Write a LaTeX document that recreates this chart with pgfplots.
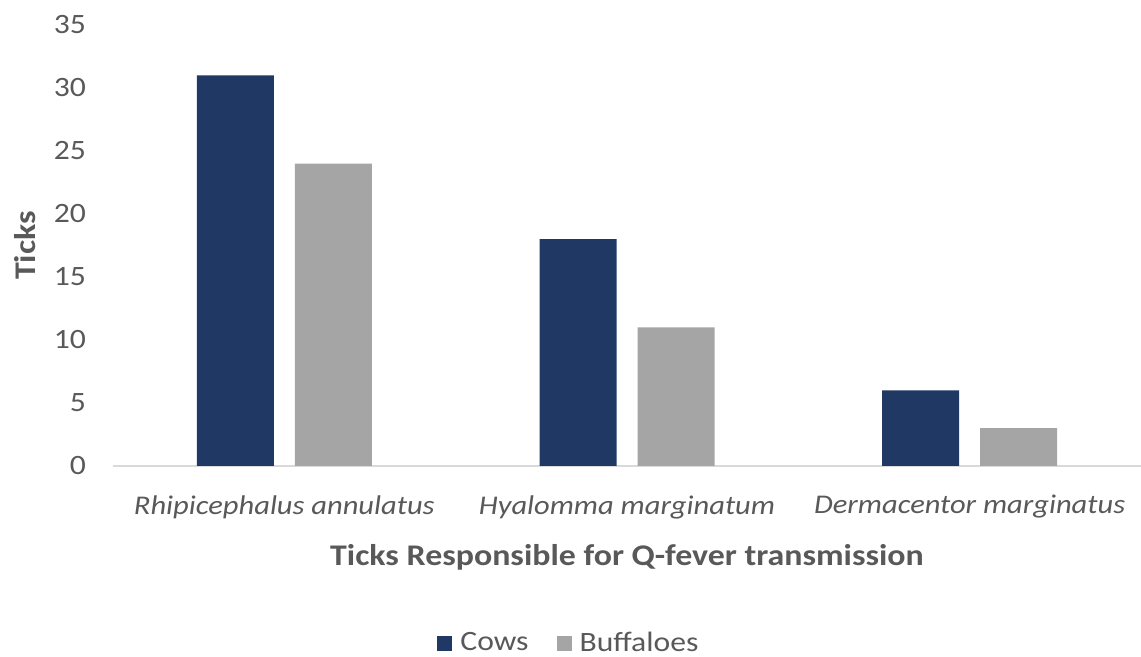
\documentclass[border=0pt]{standalone}
\usepackage{pgfplots}
\pgfplotsset{compat=1.18}
\usepackage{fontspec}
\setmainfont{Carlito}[FakeStretch=1.13]
\usetikzlibrary{calc}
\definecolor{cows}{HTML}{203864}
\definecolor{buff}{HTML}{A5A5A5}
\definecolor{txt}{HTML}{595959}
\definecolor{base}{HTML}{D9D9D9}
\begin{document}
\begin{tikzpicture}
\begin{axis}[
  scale only axis,
  width=514pt, height=220.5pt,
  xmin=-0.5, xmax=2.5, ymin=0, ymax=35,
  axis x line*=bottom, axis y line*=left,
  x axis line style={base, line width=0.8pt, -},
  y axis line style={draw=none},
  xtick={0,1,2},
  xticklabels={\textit{Rhipicephalus annulatus},\textit{Hyalomma marginatum},\textit{Dermacentor marginatus}},
  ytick={0,5,...,35},
  major tick length=0pt,
  tick style={draw=none},
  /pgf/number format/assume math mode=true,
  ticklabel style={font=\fontsize{13.5}{16}\selectfont, text=txt},
  yticklabel style={font=\fontsize{14}{16}\selectfont},
  xticklabel style={anchor=center, yshift=-20.5pt},
  yticklabel style={anchor=east, xshift=-10pt},
  xlabel={\textbf{Ticks Responsible for Q-fever transmission}},
  ylabel={\textbf{Ticks}},
  label style={font=\fontsize{15}{18}\selectfont, text=txt},
  xlabel style={at={(axis description cs:0.5,0)}, anchor=center, yshift=-45.5pt},
  ylabel style={at={(axis description cs:-0.0856,0.5)}, anchor=center, rotate=0},
  legend style={at={(axis description cs:0.4445,0)}, anchor=center, yshift=-88.5pt, draw=none,
    font=\fontsize{14}{16}\selectfont, text=txt, legend columns=2,
    /tikz/every odd column/.append style={column sep=2pt},
    /tikz/every even column/.append style={column sep=12pt}},
  legend image code/.code={\fill[#1] (0pt,-3.8pt) rectangle (7.5pt,3.7pt);},
  clip=false,
]
\addplot[ybar, bar width=38.5pt, bar shift=-24.5pt, fill=cows, draw=none] coordinates {(0,31) (1,18) (2,6)};
\addplot[ybar, bar width=38.5pt, bar shift=24.5pt, fill=buff, draw=none] coordinates {(0,24) (1,11) (2,3)};
\legend{Cows, Buffaloes}
\end{axis}
\pgfresetboundingbox
\useasboundingbox ($(current axis.south west)+(-56.5pt,-95.5pt)$) rectangle ($(current axis.north east)+(0pt,12.5pt)$);
\end{tikzpicture}
\end{document}
